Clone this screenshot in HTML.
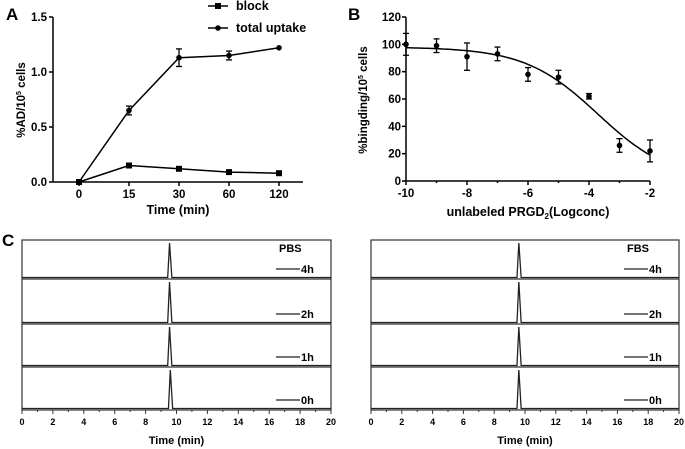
<!DOCTYPE html>
<html><head><meta charset="utf-8"><style>
html,body{margin:0;padding:0;background:#fff;}
svg{display:block;font-family:"Liberation Sans",Arial,sans-serif;font-weight:bold;}
</style></head><body>
<svg id="fig" width="685" height="449" viewBox="0 0 685 449"></svg>
<script>
// Panel A data
const timeCats = ["0","15","30","60","120"];
const totalVals = [0, 0.65, 1.13, 1.15, 1.22];
const totalErr = [0, 0.04, 0.08, 0.04, 0];
const blockVals = [0, 0.15, 0.12, 0.09, 0.08];
const aTicks = [0, 0.5, 1.0, 1.5];
// Panel B data
const bX = [-10,-9,-8,-7,-6,-5,-4,-3,-2];
const bY = [100,99,91,93,78,76,62,26,22];
const bErr = [8,5,10,5,5,5,2,5,8];
const bYTicks = [0,20,40,60,80,100,120];
const bXTicks = [-10,-8,-6,-4,-2];
const fitTop = 98, fitBottom = 0, fitLogIC50 = -3.71, fitHill = 0.362;
// Panel C data
const hplcLabels = ["4h","2h","1h","0h"];
const peakTimesPBS = [9.55,9.55,9.55,9.6];
const peakTimesFBS = [9.6,9.6,9.6,9.6];
const cTicks = [0,2,4,6,8,10,12,14,16,18,20];

const NS="http://www.w3.org/2000/svg";
const svg=document.getElementById('fig');
function el(tag,attrs,parent,text){const e=document.createElementNS(NS,tag);for(const k in attrs)e.setAttribute(k,attrs[k]);if(text!==undefined)e.textContent=text;(parent||svg).appendChild(e);return e;}
function g(name){const e=el('g',{});


return e;}

// ---------- Panel A ----------
const A=g('panel-a');
el('text',{x:6,y:20,'font-size':17},A,'A');
const axL=53, ax0=79, axStep=50, ayB=182, ayT=17;
const ay=v=>ayB-(v/1.5)*(ayB-ayT);
const ax=i=>ax0+i*axStep;
el('line',{x1:axL,y1:ayT,x2:axL,y2:ayB,stroke:'#000','stroke-width':1.5},A);
el('line',{x1:axL,y1:ayB,x2:303,y2:ayB,stroke:'#000','stroke-width':1.5},A);
aTicks.forEach(t=>{el('line',{x1:axL-4,y1:ay(t),x2:axL,y2:ay(t),stroke:'#000','stroke-width':1.5},A);
const tl=el('text',{x:axL-6,y:ay(t)+4,'font-size':11.5,'text-anchor':'end'},A,t.toFixed(1));

});
timeCats.forEach((c,i)=>{el('line',{x1:ax(i),y1:ayB,x2:ax(i),y2:ayB+4,stroke:'#000','stroke-width':1.5},A);
const tl=el('text',{x:ax(i),y:ayB+16,'font-size':11.5,'text-anchor':'middle'},A,c);

});
const at=el('text',{x:178,y:214,'font-size':12.5,'text-anchor':'middle'},A,'Time (min)');


const ayt=el('text',{transform:'translate(25,100) rotate(-90)','font-size':11.5,'text-anchor':'middle'},A);


ayt.innerHTML='%AD/10<tspan dy="-4" font-size="7">5</tspan><tspan dy="4"> cells</tspan>';
const tl1=el('polyline',{points:totalVals.map((v,i)=>ax(i)+','+ay(v)).join(' '),fill:'none',stroke:'#000','stroke-width':1.5},A);


const bl1=el('polyline',{points:blockVals.map((v,i)=>ax(i)+','+ay(v)).join(' '),fill:'none',stroke:'#000','stroke-width':1.5},A);


totalVals.forEach((v,i)=>{if(totalErr[i]>0){const x=ax(i);
el('line',{x1:x,y1:ay(v+totalErr[i]),x2:x,y2:ay(v-totalErr[i]),stroke:'#000','stroke-width':1.3},A);
el('line',{x1:x-3,y1:ay(v+totalErr[i]),x2:x+3,y2:ay(v+totalErr[i]),stroke:'#000','stroke-width':1.3},A);
el('line',{x1:x-3,y1:ay(v-totalErr[i]),x2:x+3,y2:ay(v-totalErr[i]),stroke:'#000','stroke-width':1.3},A);}
const p=el('circle',{cx:ax(i),cy:ay(v),r:2.8,fill:'#000'},A);

});
blockVals.forEach((v,i)=>{const p=el('rect',{x:ax(i)-3,y:ay(v)-3,width:6,height:6,fill:'#000'},A);

});
const lg=g('legend');
el('line',{x1:208,y1:6,x2:228,y2:6,stroke:'#000','stroke-width':1.5},lg);
el('rect',{x:215,y:3,width:6,height:6,fill:'#000'},lg);
el('text',{x:236,y:10,'font-size':12.5},lg,'block');
el('line',{x1:208,y1:28,x2:228,y2:28,stroke:'#000','stroke-width':1.5},lg);
el('circle',{cx:218,cy:28,r:2.8,fill:'#000'},lg);
el('text',{x:236,y:32,'font-size':12.5},lg,'total uptake');

// ---------- Panel B ----------
const B=g('panel-b');
el('text',{x:348,y:20,'font-size':17},B,'B');
const bL=406, bR=650, byB=181, byT=17;
const bx=v=>bL+(v+10)/8*(bR-bL);
const by=v=>byB-(v/120)*(byB-byT);
el('line',{x1:bL,y1:byT,x2:bL,y2:byB,stroke:'#000','stroke-width':1.5},B);
el('line',{x1:bL,y1:byB,x2:bR,y2:byB,stroke:'#000','stroke-width':1.5},B);
bYTicks.forEach(t=>{el('line',{x1:bL-4,y1:by(t),x2:bL,y2:by(t),stroke:'#000','stroke-width':1.5},B);
const tl=el('text',{x:bL-5,y:by(t)+4,'font-size':11.5,'text-anchor':'end'},B,t);

});
for(let v=-10;v<=-2;v++)el('line',{x1:bx(v),y1:byB,x2:bx(v),y2:byB+(v%2===0?4:2),stroke:'#000','stroke-width':1.5},B);
bXTicks.forEach(t=>{const tl=el('text',{x:bx(t),y:byB+16,'font-size':11.5,'text-anchor':'middle'},B,t);

});
const bt=el('text',{x:528,y:216,'font-size':12.5,'text-anchor':'middle'},B);


bt.innerHTML='unlabeled PRGD<tspan dy="3" font-size="8">2</tspan><tspan dy="-3">(Logconc)</tspan>';
const byt=el('text',{transform:'translate(367,100) rotate(-90)','font-size':11.5,'text-anchor':'middle'},B);


byt.innerHTML='%bingding/10<tspan dy="-4" font-size="7">5</tspan><tspan dy="4"> cells</tspan>';
let pts=[];for(let x=-10;x<=-2.001+0.05;x+=0.1){const y=fitBottom+(fitTop-fitBottom)/(1+Math.pow(10,(x-fitLogIC50)*fitHill));pts.push(bx(x).toFixed(1)+','+by(y).toFixed(1));}
const fc=el('polyline',{points:pts.join(' '),fill:'none',stroke:'#000','stroke-width':1.5},B);


bX.forEach((xv,i)=>{const x=bx(xv),v=bY[i],e=bErr[i];
el('line',{x1:x,y1:by(v+e),x2:x,y2:by(v-e),stroke:'#000','stroke-width':1.3},B);
el('line',{x1:x-3,y1:by(v+e),x2:x+3,y2:by(v+e),stroke:'#000','stroke-width':1.3},B);
el('line',{x1:x-3,y1:by(v-e),x2:x+3,y2:by(v-e),stroke:'#000','stroke-width':1.3},B);
const p=el('circle',{cx:x,cy:by(v),r:2.8,fill:'#000'},B);

});

// ---------- Panel C ----------
el('text',{x:2,y:246,'font-size':17},svg,'C');
const cTop=240, cBot=410, dividers=[279,324,367,410];
function hplc(name,L,R,peaks,title){
const P=g(name);
const cx=t=>L+t/20*(R-L);
el('rect',{x:L,y:cTop,width:R-L,height:cBot-cTop,fill:'none',stroke:'#333','stroke-width':1.2},P);
dividers.forEach((d,k)=>{
 const base=d-1.5, tp=peaks[k], top=(k===0?cTop:dividers[k-1])+3;
 const path='M'+L+','+base+' L'+cx(tp-0.12)+','+base+' L'+cx(tp)+','+top+' L'+cx(tp+0.15)+','+base+' L'+R+','+base;
 const tr=el('path',{d:path,fill:'none',stroke:'#222','stroke-width':1.3},P);
 
 
 if(k<3)el('line',{x1:L,y1:d,x2:R,y2:d,stroke:'#333','stroke-width':1.2},P);
 el('line',{x1:R-55,y1:d-10,x2:R-31,y2:d-10,stroke:'#222','stroke-width':1.2},P);
 const lt=el('text',{x:R-30,y:d-6,'font-size':11},P,hplcLabels[k]);
 
 
});
el('text',{x:R-52,y:252,'font-size':11},P,title);
for(let t=0;t<=20;t++)el('line',{x1:cx(t),y1:cBot,x2:cx(t),y2:cBot+(t%2===0?4:2),stroke:'#333','stroke-width':1},P);
cTicks.forEach(t=>{const tl=el('text',{x:cx(t),y:cBot+15,'font-size':9,'text-anchor':'middle'},P,t);

});
const xt=el('text',{x:(L+R)/2,y:cBot+34,'font-size':11,'text-anchor':'middle'},P,'Time (min)');


}
hplc('panel-c-pbs',22,331,peakTimesPBS,'PBS');
hplc('panel-c-fbs',371,679,peakTimesFBS,'FBS');
</script>
</body></html>
